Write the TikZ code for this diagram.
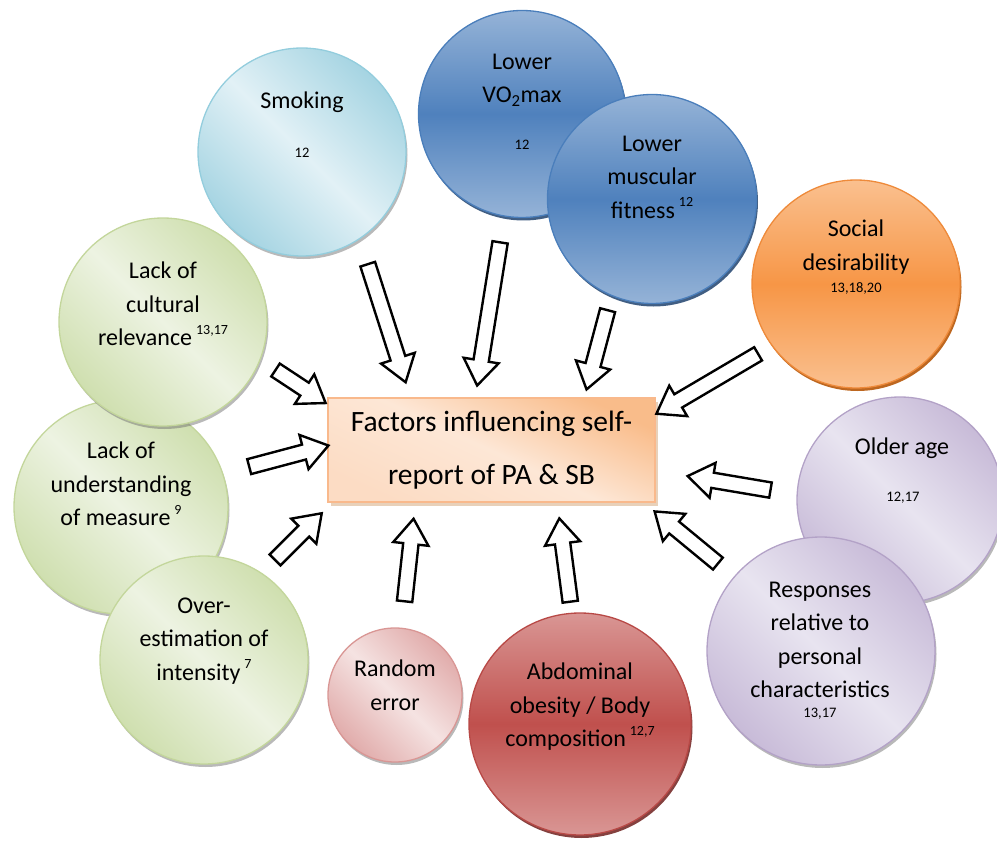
\documentclass[tikz,border=0pt]{standalone}
\usepackage{fontspec}
\setmainfont{Carlito}
\usetikzlibrary{shapes.arrows,shadows}

\definecolor{skydark}{HTML}{A5D4E2}
\definecolor{skylight}{HTML}{E2F1F6}
\definecolor{skyline}{HTML}{93CDDD}
\definecolor{leafdark}{HTML}{CFDFAF}
\definecolor{leaflight}{HTML}{EDF3E2}
\definecolor{leafline}{HTML}{C3D69B}
\definecolor{rosedark}{HTML}{E1ACAB}
\definecolor{roselight}{HTML}{F5E3E2}
\definecolor{roseline}{HTML}{D99694}
\definecolor{lilacdark}{HTML}{C8BBD8}
\definecolor{lilaclight}{HTML}{E8E4F0}
\definecolor{lilacline}{HTML}{B3A2C7}
\definecolor{navylight}{HTML}{95B3D7}
\definecolor{navydark}{HTML}{4F81BD}
\definecolor{navyline}{HTML}{4A7EBB}
\definecolor{navyrim}{HTML}{2C4D75}
\definecolor{tanlight}{HTML}{FAC08F}
\definecolor{tandark}{HTML}{F79646}
\definecolor{tanline}{HTML}{EE8A3A}
\definecolor{tanrim}{HTML}{B65708}
\definecolor{bricklight}{HTML}{D99694}
\definecolor{brickdark}{HTML}{C0504D}
\definecolor{brickline}{HTML}{B84946}
\definecolor{brickrim}{HTML}{772C2A}
\definecolor{boxtop}{HTML}{F9BC8A}
\definecolor{boxmid}{HTML}{FDE7D6}
\definecolor{boxbottom}{HTML}{FCDCC4}
\definecolor{boxline}{HTML}{F9B98C}

\newcommand{\supref}[1]{\,\raisebox{11.5pt}{\fontsize{14}{14}\selectfont #1}}

\tikzset{
  bubble/.style={circle, inner sep=0pt, line width=1.3pt, minimum size=#1},
  pastel/.style n args={3}{shading=axis, left color=#1, right color=#1, middle color=#2,
    shading angle=135, draw=#3,
    drop shadow={shadow xshift=1.5pt, shadow yshift=-3pt, fill=black!55, opacity=0.5}},
  glossy/.style n args={4}{top color=#1, bottom color=#1, middle color=#2, draw=#3,
    drop shadow={shadow xshift=1.5pt, shadow yshift=-3pt, fill=#4, opacity=0.9}},
  factorbox/.style={draw=boxline, line width=1.3pt, minimum width=327pt, minimum height=104pt,
    top color=boxtop, bottom color=boxbottom, middle color=boxmid, shading angle=-25,
    align=center, font=\fontsize{29.5}{53}\selectfont,
    drop shadow={shadow xshift=3pt, shadow yshift=-4pt, fill=brown!60, opacity=0.6}},
  fatarrow/.style={single arrow, draw=black, fill=white, line width=2.4pt, inner sep=6.5pt,
    single arrow head extend=10pt, single arrow tip angle=70,
    single arrow head indent=0pt, minimum height=#1},
  words/.style={align=center, font=\fontsize{24}{33.5}\selectfont},
  refs/.style={font=\fontsize{14.5}{18}\selectfont},
}

\begin{document}
\begin{tikzpicture}[x=1pt,y=-1pt]
\useasboundingbox (0,0) rectangle (997,848);

% circles, back to front
\node[bubble=214pt, pastel={leafdark}{leaflight}{leafline}] (understanding) at (121,507) {};
\node[bubble=208pt, pastel={leafdark}{leaflight}{leafline}] (cultural) at (163,322) {};
\node[bubble=208pt, pastel={leafdark}{leaflight}{leafline}] (overest) at (204,660) {};
\node[bubble=208pt, pastel={skydark}{skylight}{skyline}] (smoking) at (302,152) {};
\node[bubble=207pt, glossy={navylight}{navydark}{navyline}{navyrim}] (vomax) at (522,114) {};
\node[bubble=209pt, glossy={navylight}{navydark}{navyline}{navyrim}] (muscular) at (652,199) {};
\node[bubble=208pt, glossy={tanlight}{tandark}{tanline}{tanrim}] (social) at (856,284) {};
\node[bubble=134pt, pastel={rosedark}{roselight}{roseline}] (random) at (395,695) {};
\node[bubble=222pt, glossy={bricklight}{brickdark}{brickline}{brickrim}] (abdominal) at (580,724) {};
\node[bubble=206pt, pastel={lilacdark}{lilaclight}{lilacline}] (older) at (900,500) {};
\node[bubble=228pt, pastel={lilacdark}{lilaclight}{lilacline}] (responses) at (821,651) {};

% texts
\node[words] (smokingtxt) at (302,102) {Smoking};
\node[refs] (smokingref) at (302,153) {12};
\node[words] (vomaxtxt) at (522,80) {Lower\\VO\textsubscript{2}max};
\node[refs] (vomaxref) at (522,145) {12};
\node[words] (musculartxt) at (652,177) {Lower\\muscular\\fitness\supref{12}};
\node[words] (socialtxt) at (856,247) {Social\\desirability};
\node[refs] (socialref) at (856,288) {13,18,20};
\node[words] (culturaltxt) at (163,304) {Lack of\\cultural\\relevance\supref{13,17}};
\node[words] (understandingtxt) at (121,484) {Lack of\\understanding\\of measure\supref{9}};
\node[words] (overesttxt) at (204,641) {Over-\\estimation of\\intensity\supref{7}};
\node[words] (randomtxt) at (395,685) {Random\\error};
\node[words] (abdominaltxt) at (580,707) {Abdominal\\obesity / Body\\composition\supref{12,7}};
\node[words] (oldertxt) at (902,448) {Older age};
\node[refs] (olderref) at (903,498) {12,17};
\node[words] (responsestxt) at (820,640) {Responses\\relative to\\personal\\characteristics};
\node[refs] (responsesref) at (820,714) {13,17};

% centre
\node[factorbox] (factors) at (491.5,450) {Factors influencing self-\\report of PA \& SB};

% block arrows
\node[fatarrow=124pt, rotate=-72.2] (smokingarrow) at (385,318) {};
\node[fatarrow=145pt, rotate=-99.1] (vomaxarrow) at (489.5,308.5) {};
\node[fatarrow=82pt, rotate=-104.9] (musculararrow) at (598.5,344.5) {};
\node[fatarrow=118pt, rotate=-149.5] (socialarrow) at (712,381) {};
\node[fatarrow=60pt, rotate=-33.4] (culturalarrow) at (296,383.5) {};
\node[fatarrow=82pt, rotate=14.9] (understandingarrow) at (283.5,457.5) {};
\node[fatarrow=66pt, rotate=45] (overestarrow) at (294.5,540.5) {};
\node[fatarrow=83pt, rotate=83.8] (randomarrow) at (408.5,565.5) {};
\node[fatarrow=84pt, rotate=97.5] (abdominalarrow) at (565.5,565.5) {};
\node[fatarrow=84pt, rotate=170.4] (olderarrow) at (734.5,484) {};
\node[fatarrow=82pt, rotate=140.5] (responsesarrow) at (690.5,541) {};
\end{tikzpicture}
\end{document}
